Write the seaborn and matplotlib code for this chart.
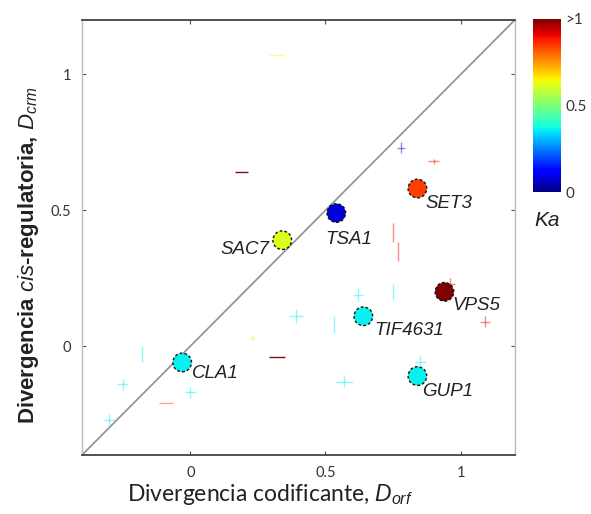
import numpy as np
import pandas as pd
import matplotlib
matplotlib.use("Agg")
import matplotlib.pyplot as plt
import seaborn as sns
from matplotlib.cm import ScalarMappable
from matplotlib.colors import Normalize

# Highlighted genes: coding divergence, cis-regulatory divergence, Ka
genes = ["SAC7", "TSA1", "SET3", "VPS5", "TIF4631", "CLA1", "GUP1"]
d_orf = [0.34, 0.54, 0.84, 0.94, 0.64, -0.03, 0.84]
d_crm = [0.39, 0.49, 0.58, 0.20, 0.11, -0.06, -0.11]
ka = [0.62, 0.08, 0.84, 1.00, 0.36, 0.36, 0.36]
# label offsets (points) relative to each circle
lab_dx = [-9, -8, 6, 6, 8, 7, 3]
lab_dy = [-7, -19, -11, -10, -10, -8, -11]
lab_ha = ["right", "left", "left", "left", "left", "left", "left"]

# Remaining genes, drawn as error crosses
bg_orf = [0.32, 0.19, 0.78, 0.90, 0.75, 0.77, 0.62, 0.75, 0.39, 0.53,
          1.09, 0.96, 0.32, 0.85, 0.57, -0.18, -0.25, 0.00, -0.09, -0.30, 0.23]
bg_crm = [1.07, 0.64, 0.73, 0.68, 0.42, 0.35, 0.19, 0.20, 0.11, 0.08,
          0.09, 0.23, -0.04, -0.06, -0.13, -0.03, -0.14, -0.17, -0.21, -0.27, 0.03]
bg_ka = [0.62, 1.00, 0.10, 0.90, 0.90, 0.90, 0.36, 0.36, 0.36, 0.36,
         0.92, 0.92, 1.00, 0.36, 0.36, 0.36, 0.36, 0.36, 0.85, 0.36, 0.65]
bg_xerr = [0.03, 0.025, 0.015, 0.02, 0.0, 0.0, 0.02, 0.0, 0.025, 0.0,
           0.02, 0.02, 0.03, 0.02, 0.03, 0.0, 0.02, 0.02, 0.025, 0.02, 0.01]
bg_yerr = [0.0, 0.0, 0.02, 0.008, 0.035, 0.035, 0.025, 0.03, 0.025, 0.03,
           0.02, 0.02, 0.0, 0.025, 0.02, 0.03, 0.02, 0.02, 0.0, 0.02, 0.01]

ticks = [0, 0.5, 1]
tick_labels = ["0", "0.5", "1"]
lim = (-0.4, 1.2)

sns.set_theme(style="white")
plt.rcParams["font.family"] = ["DejaVu Sans"]
plt.rcParams["mathtext.fontset"] = "custom"
plt.rcParams["mathtext.it"] = "Liberation Sans:italic"
plt.rcParams["mathtext.rm"] = "Liberation Sans"

fig = plt.figure(figsize=(5.91, 5.14), dpi=100)
ax = fig.add_axes([0.139, 0.115, 0.732, 0.846])

cmap = plt.get_cmap("jet")
norm = Normalize(0, 1)

# identity line
ax.plot(lim, lim, color="#909090", lw=1.2, zorder=1)

# background crosses
for x, y, k, xe, ye in zip(bg_orf, bg_crm, bg_ka, bg_xerr, bg_yerr):
    c = cmap(norm(k))
    alpha = 0.95 if k >= 1.0 and ye == 0 else 0.45
    ax.errorbar(x, y, xerr=xe if xe else None, yerr=ye if ye else None,
                fmt="none", ecolor=c, elinewidth=1.0, alpha=alpha,
                capsize=0, zorder=2)

df = pd.DataFrame({"gene": genes, "d_orf": d_orf, "d_crm": d_crm, "ka": ka})
n_before = len(ax.collections)
sns.scatterplot(data=df, x="d_orf", y="d_crm", hue="ka", palette=cmap,
                hue_norm=(0, 1), s=180, edgecolor="#111111", linewidth=1.0,
                legend=False, ax=ax, zorder=3)
for coll in ax.collections[n_before:]:
    coll.set_linestyle((0, (2, 1.5)))

for g, x, y, dx, dy, ha in zip(genes, d_orf, d_crm, lab_dx, lab_dy, lab_ha):
    ax.annotate(g, (x, y), xytext=(dx, dy), textcoords="offset points",
                ha=ha, va="center", fontsize=13.5, style="italic",
                family=["Liberation Sans", "DejaVu Sans"],
                color="#222222", zorder=4)

ax.set_xlim(lim)
ax.set_ylim(lim)
ax.set_xticks(ticks)
ax.set_yticks(ticks)
ax.set_xticklabels(tick_labels, fontsize=10.5, color="#333333", family="Lato")
ax.set_yticklabels(tick_labels, fontsize=10.5, color="#333333", family="Lato")
ax.tick_params(direction="in", length=3, width=0.8, color="#555555",
               top=True, right=True, bottom=True, left=True, pad=8)
for side in ["top", "bottom"]:
    ax.spines[side].set_color("#333333")
    ax.spines[side].set_linewidth(1.2)
for side in ["left", "right"]:
    ax.spines[side].set_color("#bbbbbb")
    ax.spines[side].set_linewidth(1.0)

ax.set_xlabel(r"Divergencia codificante, $D_{orf}$", fontsize=16.5,
              color="#222222", family="Lato", va="center")
ax.xaxis.set_label_coords(0.434, -0.092)
ax.set_ylabel(r"Divergencia $\it{cis}$-regulatoria, $D_{crm}$", fontsize=16,
              fontweight="bold", color="#222222", family="Liberation Sans",
              va="center")
ax.yaxis.set_label_coords(-0.125, 0.46)

# colour bar for Ka
cax = fig.add_axes([533 / 591, 1 - 192 / 514, 28 / 591, 173 / 514])
cb = fig.colorbar(ScalarMappable(norm=norm, cmap=cmap), cax=cax)
cb.set_ticks([0, 0.5, 1])
cb.set_ticklabels(["0", "0.5", ">1"])
cb.outline.set_visible(False)
cax.tick_params(length=0, labelsize=11, labelcolor="#333333", pad=3)
for lbl in cax.get_yticklabels():
    lbl.set_family("Lato")
fig.text(cax.get_position().x0 + cax.get_position().width / 2, 1 - 220 / 514,
         "Ka", ha="center", va="center", fontsize=15, style="italic",
         family="Liberation Sans", color="#222222")

fig.savefig("out.png", dpi=100)
